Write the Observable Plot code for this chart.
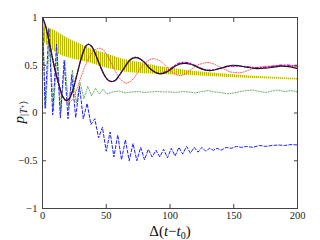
<!DOCTYPE html>
<html><head><meta charset="utf-8">
<script src="https://cdn.jsdelivr.net/npm/d3@7"></script>
<script src="https://cdn.jsdelivr.net/npm/@observablehq/plot@0.6"></script>
<style>body{margin:0;background:#fff} svg{display:block}</style>
</head><body><div id="chart"></div>
<script>
const xTicks = [0, 50, 100, 150, 200];
const yTicks = [-1, -0.5, 0, 0.5, 1];
const yTickLabels = ["−1", "−0.5", "0", "0.5", "1"];

const blackT = [0,2,5,9,13,16,18.5,21,24,27,31,34,36,39,42,45,48,51,54,57,60,63,66,69,73,76,80,84,88,92,96,100,104,108,112,116,120,125,130,135,140,145,149,154,160,168,175,181,187,193,200];
const blackV = [1.0,0.93,0.76,0.5,0.29,0.17,0.13,0.15,0.25,0.4,0.6,0.7,0.72,0.69,0.6,0.5,0.41,0.35,0.33,0.34,0.39,0.45,0.51,0.56,0.58,0.57,0.53,0.47,0.43,0.41,0.42,0.45,0.49,0.515,0.52,0.51,0.49,0.46,0.445,0.45,0.47,0.49,0.5,0.495,0.48,0.465,0.47,0.48,0.49,0.485,0.465];
const magentaV = [1.0,0.93,0.76,0.5,0.29,0.17,0.13,0.15,0.25,0.4,0.6,0.7,0.72,0.69,0.6,0.5,0.41,0.35,0.33,0.34,0.39,0.45,0.51,0.56,0.585,0.57,0.53,0.47,0.43,0.415,0.43,0.46,0.5,0.525,0.53,0.52,0.495,0.465,0.45,0.455,0.47,0.485,0.49,0.49,0.485,0.475,0.48,0.49,0.5,0.5,0.49];

const redT = [0,3,6,9,12,15,18,21,24,27,30,33,36,39,42,45,48,51,54,57,60,63,66,69,72,75,78,81,84,87,90,93,96,99,102,105,108,111,114,117,120,123,126,129,132,135,138,141,144,147,150,154,158,162,166,170,175,180,185,190,195,200];
const redV = [1.0,0.88,0.7,0.5,0.33,0.2,0.13,0.11,0.15,0.25,0.37,0.48,0.57,0.63,0.67,0.68,0.66,0.6,0.52,0.44,0.37,0.33,0.31,0.33,0.37,0.43,0.49,0.53,0.56,0.57,0.56,0.54,0.5,0.46,0.42,0.4,0.39,0.4,0.43,0.46,0.49,0.51,0.52,0.53,0.525,0.51,0.49,0.47,0.45,0.43,0.425,0.42,0.43,0.45,0.47,0.48,0.49,0.49,0.5,0.49,0.49,0.48];

const greenT = [0,2.5,5.5,8.5,11.5,14.5,17.5,20.5,23.5,26.5,29.5,32.5,35.5,38.5,41.5,44.5,47.5,50.5,55,60,65,70,75,80,85,90,95,100,105,110,115,120,125,130,135,140,145,150,155,160,165,170,175,180,185,190,195,200];
const greenV = [1.0,0.05,0.78,0.02,0.62,0.02,0.55,0.06,0.45,0.1,0.32,0.15,0.28,0.18,0.26,0.2,0.25,0.2,0.22,0.23,0.21,0.22,0.225,0.215,0.22,0.225,0.22,0.22,0.215,0.225,0.22,0.21,0.225,0.235,0.22,0.215,0.2,0.21,0.225,0.235,0.24,0.225,0.215,0.23,0.24,0.225,0.235,0.22];

const blueT = [0,2,5,8,11,14,17,20,23,26,29,32,35,38,41,44,47,50,53,56,59,62,65,68,71,74,77,80,83,86,89,92,95,98,101,104,107,110,113,116,119,122,125,128,131,134,137,140,144,148,152,156,160,165,170,175,180,185,190,195,200];
const blueV = [1.0,0.05,0.88,-0.02,0.72,-0.05,0.55,-0.06,0.4,-0.05,0.28,-0.06,0.1,-0.12,-0.06,-0.26,-0.15,-0.4,-0.2,-0.46,-0.23,-0.49,-0.28,-0.5,-0.32,-0.5,-0.36,-0.49,-0.38,-0.46,-0.39,-0.46,-0.38,-0.47,-0.37,-0.45,-0.36,-0.43,-0.35,-0.42,-0.36,-0.41,-0.36,-0.4,-0.37,-0.39,-0.37,-0.39,-0.36,-0.37,-0.35,-0.36,-0.35,-0.36,-0.34,-0.35,-0.34,-0.335,-0.34,-0.33,-0.335];

const yellowT = [0,5,10,15,20,25,30,36,43,50,57,64,72,80,90,100,110,120,135,150,165,180,200];
const yellowHi = [0.92,0.89,0.86,0.82,0.78,0.75,0.72,0.68,0.65,0.62,0.59,0.56,0.54,0.52,0.49,0.47,0.45,0.435,0.415,0.40,0.385,0.375,0.36];
const yellowLo = [0.76,0.69,0.64,0.6,0.58,0.56,0.55,0.53,0.5,0.47,0.45,0.43,0.42,0.41,0.405,0.40,0.395,0.39,0.38,0.37,0.36,0.355,0.345];

const rows = (t, v) => t.map((d, i) => ({t: d, v: v[i]}));
const black = rows(blackT, blackV);
const magenta = rows(blackT, magentaV);
const red = rows(redT, redV);
const green = rows(greenT, greenV);
const blue = rows(blueT, blueV);
const yellow = yellowT.map((d, i) => ({t: d, lo: yellowLo[i], hi: yellowHi[i]}));

const serif = "'Liberation Serif', 'DejaVu Serif', serif";
const chart = Plot.plot({
  width: 320, height: 240,
  marginLeft: 42, marginRight: 23, marginTop: 17, marginBottom: 32,
  style: {fontFamily: serif, fontSize: "10.5px", background: "white", color: "#222"},
  x: {domain: [0, 200]},
  y: {domain: [-1, 1]},
  marks: [
    Plot.areaY(yellow, {x: "t", y1: "lo", y2: "hi", fill: "url(#ystripes)", curve: "linear"}),
    Plot.line(green, {x: "t", y: "v", stroke: "#3a9a3a", strokeWidth: 1, strokeDasharray: "1,1.6", strokeOpacity: 0.8}),
    Plot.line(blue, {x: "t", y: "v", stroke: "#2020ff", strokeWidth: 1, strokeDasharray: "3,2"}),
    Plot.line(red, {x: "t", y: "v", stroke: "#ff4040", strokeWidth: 1, strokeDasharray: "1,1.5", strokeOpacity: 0.85}),
    Plot.line(magenta, {x: "t", y: "v", stroke: "#cc00cc", strokeWidth: 1.3, strokeDasharray: "3,2,1,2", curve: "catmull-rom"}),
    Plot.line(black, {x: "t", y: "v", stroke: "#1a1a1a", strokeWidth: 1.2, curve: "catmull-rom"}),
    Plot.frame({stroke: "#444"}),
    Plot.axisX({ticks: xTicks, anchor: "bottom", tickSize: -4, tickPadding: 7, label: null, stroke: "#444", fontFamily: serif, fill: "#222"}),
    Plot.axisX({ticks: xTicks, anchor: "top", tickSize: -4, tickFormat: () => "", label: null, stroke: "#444"}),
    Plot.axisY({ticks: yTicks, anchor: "left", tickSize: -4, tickPadding: 9, label: null, stroke: "#444", fontFamily: serif, fill: "#222",
      tickFormat: d => yTickLabels[yTicks.indexOf(d)]}),
    Plot.axisY({ticks: yTicks, anchor: "right", tickSize: -4, tickFormat: () => "", label: null, stroke: "#444"})
  ]
});

const svg = d3.select(chart);
const defs = svg.insert("defs", ":first-child");
const pat = defs.append("pattern").attr("id", "ystripes").attr("patternUnits", "userSpaceOnUse")
  .attr("width", 2).attr("height", 8);
pat.append("rect").attr("width", 2).attr("height", 8).attr("fill", "#eeeea0");
pat.append("rect").attr("width", 1).attr("height", 8).attr("fill", "#b8b800");

const xl = svg.append("text").attr("x", 170).attr("y", 236).attr("text-anchor", "middle")
  .attr("font-family", serif).attr("font-size", 15).attr("fill", "#111");
xl.append("tspan").text("Δ(");
xl.append("tspan").attr("font-style", "italic").text("t");
xl.append("tspan").text("−");
xl.append("tspan").attr("font-style", "italic").text("t");
xl.append("tspan").attr("font-size", 10).attr("dy", 3).text("0");
xl.append("tspan").attr("dy", -3).text(")");

const yl = svg.append("text").attr("transform", "translate(24,112) rotate(-90)").attr("text-anchor", "middle")
  .attr("font-family", serif).attr("font-size", 15).attr("fill", "#111");
yl.append("tspan").attr("font-style", "italic").text("p");
yl.append("tspan").attr("font-size", 10).attr("dy", 3).text("|");
yl.append("tspan").attr("font-size", 10).attr("font-style", "italic").text("T");
yl.append("tspan").attr("font-size", 7).attr("dy", -2).text("+");
yl.append("tspan").attr("font-size", 10).attr("dy", 2).text("⟩");

document.getElementById("chart").appendChild(chart);
</script>
</body></html>
